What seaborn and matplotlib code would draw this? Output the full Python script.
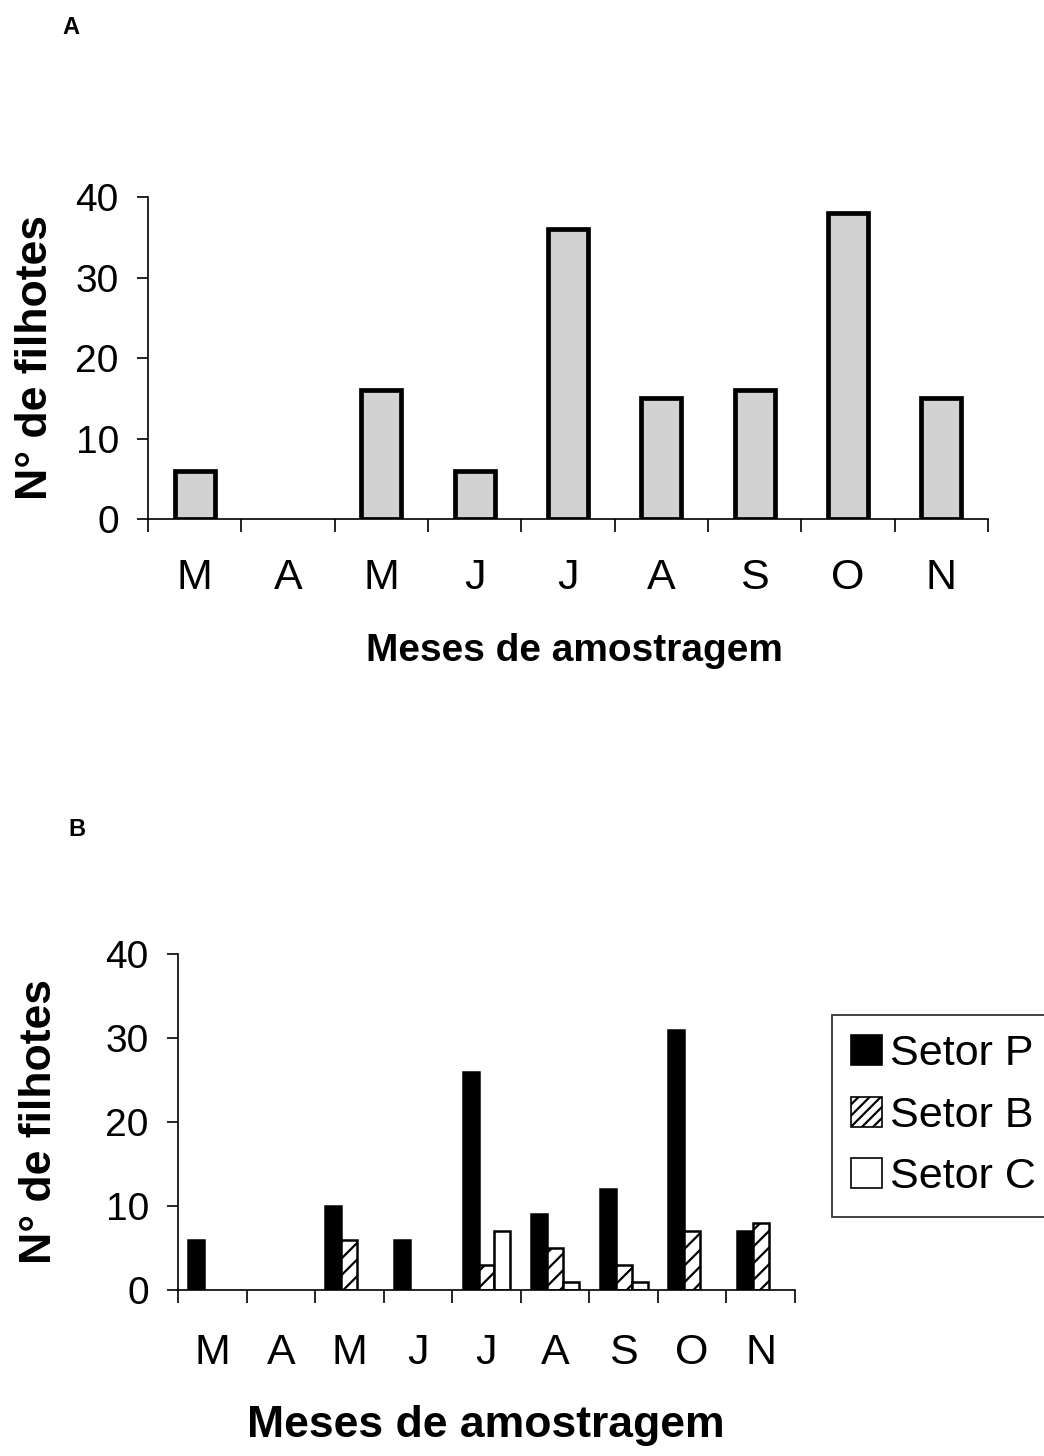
import matplotlib
matplotlib.use("Agg")
import matplotlib.pyplot as plt
from matplotlib.patches import Patch
from matplotlib.ticker import FixedLocator
import seaborn as sns
import pandas as pd
import numpy as np

# ---- data ----
month_keys = ["Mar", "Abr", "Mai", "Jun", "Jul", "Ago", "Set", "Out", "Nov"]
month_labels = ["M", "A", "M", "J", "J", "A", "S", "O", "N"]
total_filhotes = [6, 0, 16, 6, 36, 15, 16, 38, 15]
setor_names = ["Setor P", "Setor B", "Setor C"]
setor_p = [6, 0, 10, 6, 26, 9, 12, 31, 7]
setor_b = [0, 0, 6, 0, 3, 5, 3, 7, 8]
setor_c = [0, 0, 0, 0, 7, 1, 1, 0, 0]
y_ticks = [0, 10, 20, 30, 40]

sns.set_style("ticks")
plt.rcParams["font.family"] = ["Liberation Sans", "DejaVu Sans"]
plt.rcParams["hatch.linewidth"] = 1.6
for k in ("text.color", "axes.labelcolor", "xtick.color", "ytick.color", "axes.edgecolor"):
    plt.rcParams[k] = "black"

W, H = 1044, 1456
fig = plt.figure(figsize=(W / 100, H / 100), dpi=100)
ax1 = fig.add_axes([148 / W, 1 - 519 / H, 840 / W, 322 / H])
ax2 = fig.add_axes([178 / W, 1 - 1290 / H, 617 / W, 336 / H])

# ---- Panel A ----
dfa = pd.DataFrame({"mes": month_keys, "n": total_filhotes})
sns.barplot(data=dfa, x="mes", y="n", color="#d2d2d2", saturation=1,
            width=0.43, edgecolor="black", linewidth=3.4, ax=ax1)

# ---- Panel B ----
dfb = pd.DataFrame({
    "mes": month_keys * 3,
    "setor": [setor_names[0]] * 9 + [setor_names[1]] * 9 + [setor_names[2]] * 9,
    "n": setor_p + setor_b + setor_c,
})
sns.barplot(data=dfb, x="mes", y="n", hue="setor", hue_order=setor_names,
            palette=["black", "white", "white"], saturation=1, width=0.7,
            edgecolor="black", linewidth=1.8, ax=ax2, legend=False)
for p in ax2.containers[1]:
    p.set_hatch("//")

for ax in (ax1, ax2):
    for p in ax.patches:
        if p.get_height() == 0:
            p.set_linewidth(0)
            p.set_hatch(None)

def style_axis(ax, month_pad):
    ax.set_xlim(-0.5, 8.5)
    ax.set_ylim(0, 40)
    ax.set_yticks(y_ticks)
    ax.set_yticklabels([str(t) for t in y_ticks], fontsize=28)
    ax.set_xticks(range(9))
    ax.set_xticklabels(month_labels, fontsize=31)
    ax.xaxis.set_minor_locator(FixedLocator(np.arange(-0.5, 9.0, 1.0)))
    ax.tick_params(axis="x", which="major", length=0, pad=month_pad)
    ax.tick_params(axis="x", which="minor", length=9, width=1.2, direction="out", color="black")
    ax.tick_params(axis="y", which="major", length=8, width=1.2, direction="out", pad=13, color="black")
    for s in ("top", "right"):
        ax.spines[s].set_visible(False)
    for s in ("left", "bottom"):
        ax.spines[s].set_linewidth(1.2)
        ax.spines[s].set_color("black")
    ax.set_xlabel("")
    ax.set_ylabel("")

style_axis(ax1, 28)
style_axis(ax2, 31)

ax1.set_ylabel("N° de filhotes", fontsize=32, fontweight="bold")
ax1.yaxis.set_label_coords(-0.1095, 0.5)
ax1.set_xlabel("Meses de amostragem", fontsize=28, fontweight="bold")
ax1.xaxis.set_label_coords(0.508, -0.354)

ax2.set_ylabel("N° de filhotes", fontsize=32, fontweight="bold")
ax2.yaxis.set_label_coords(-0.191, 0.5)
ax2.set_xlabel("Meses de amostragem", fontsize=32, fontweight="bold")
ax2.xaxis.set_label_coords(0.499, -0.342)

fig.text(62 / W, 1 - 28 / H, "A", fontsize=17, fontweight="bold", va="center", ha="left")
fig.text(68 / W, 1 - 830 / H, "B", fontsize=17, fontweight="bold", va="center", ha="left")

handles = [
    Patch(facecolor="black", edgecolor="black", linewidth=1.2),
    Patch(facecolor="white", edgecolor="black", hatch="///", linewidth=1.2),
    Patch(facecolor="white", edgecolor="black", linewidth=1.2),
]
leg = fig.legend(handles, setor_names, loc="upper left",
                 bbox_to_anchor=(832 / W, 1 - 1015 / H), frameon=True,
                 fancybox=False, edgecolor="black", fontsize=31,
                 handlelength=0.7, handleheight=0.7, handletextpad=0.2,
                 labelspacing=0.5, borderpad=0.45, borderaxespad=0)
leg.get_frame().set_linewidth(1.3)

fig.savefig("out.png", dpi=100)
